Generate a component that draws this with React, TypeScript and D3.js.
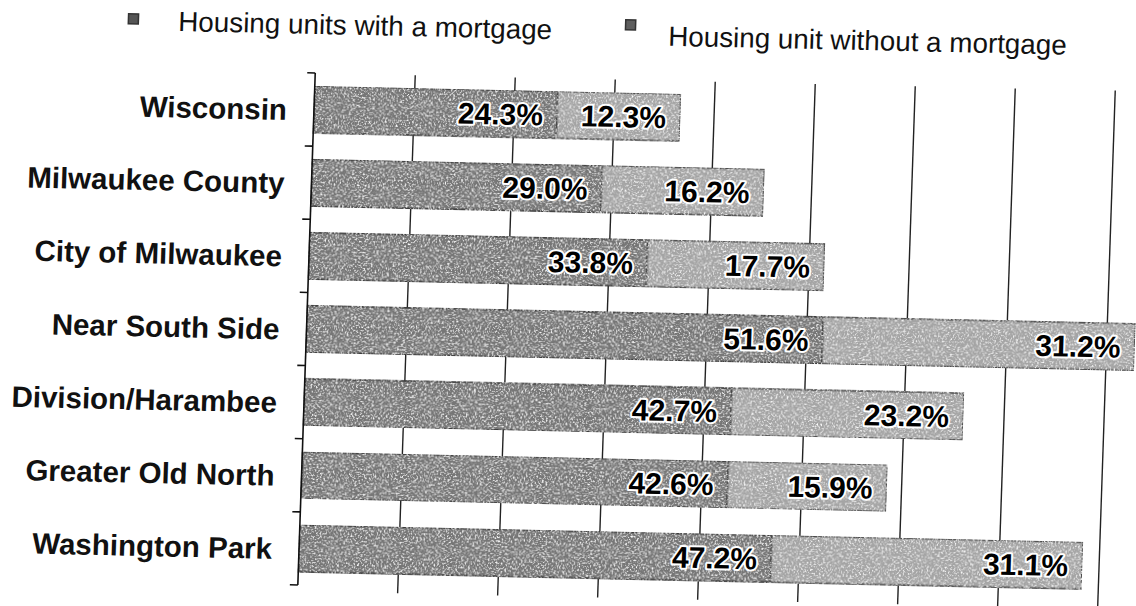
import React from "react";
import * as d3 from "d3";

const categories = [
  "Wisconsin",
  "Milwaukee County",
  "City of Milwaukee",
  "Near South Side",
  "Division/Harambee",
  "Greater Old North",
  "Washington Park",
];
const withMortgage = [24.3, 29.0, 33.8, 51.6, 42.7, 42.6, 47.2];
const withoutMortgage = [12.3, 16.2, 17.7, 31.2, 23.2, 15.9, 31.1];
const seriesNames = ["Housing units with a mortgage", "Housing unit without a mortgage"];
const xTicks = [0, 10, 20, 30, 40, 50, 60, 70, 80, 90];

const W = 1136;
const H = 606;
const axisX = 306.5;
const plotTop = 73;
const plotBottom = 585;
const pivotY = 330;
const FONT = "'Liberation Sans', Arial, Helvetica, sans-serif";
const fills = ["#767676", "#a4a4a4"];

export default function App() {
  const x = d3.scaleLinear().domain([0, 90]).range([axisX, axisX + 900]);
  const y = d3
    .scaleBand<string>()
    .domain(categories)
    .range([plotTop, plotBottom])
    .paddingInner(0.36)
    .paddingOuter(0.18);
  const step = y.step();
  const bw = y.bandwidth();
  const boundaries = d3.range(categories.length + 1).map((i) => plotTop + i * step);
  const fmt = (v: number) => v.toFixed(1) + "%";

  const transform = `translate(${axisX},${pivotY}) matrix(1,0.022,-0.034,1,0,0) translate(${-axisX},${-pivotY})`;

  return (
    <svg
      width={W}
      height={H}
      viewBox={`0 0 ${W} ${H}`}
      style={{ position: "fixed", left: 0, top: 0, background: "#fff" }}
    >
      <defs>
        <filter id="grain" x="0" y="0" width="100%" height="100%">
          <feTurbulence type="fractalNoise" baseFrequency="0.55" numOctaves="2" seed="7" result="n" />
          <feColorMatrix
            in="n"
            type="matrix"
            values="0 0 0 0 1  0 0 0 0 1  0 0 0 0 1  3.2 0 0 0 -1.6"
            result="s"
          />
          <feComposite in="s" in2="SourceAlpha" operator="in" result="sc" />
          <feMerge>
            <feMergeNode in="SourceGraphic" />
            <feMergeNode in="sc" />
          </feMerge>
        </filter>
      </defs>
      <rect x={0} y={0} width={W} height={H} fill="#fff" />
      <g transform={transform}>
        {/* legend */}
        <g fontFamily={FONT} fontSize={27.8} fill="#111">
          <rect x={118} y={18} width={10} height={10} fill="#555" stroke="#333" strokeWidth={1.5} />
          <text x={168} y={34}>{seriesNames[0]}</text>
          <rect x={615} y={13} width={10} height={10} fill="#5e5e5e" stroke="#333" strokeWidth={1.5} />
          <text x={658} y={38}>{seriesNames[1]}</text>
        </g>

        {/* gridlines */}
        {xTicks.slice(1).map((t) => (
          <line
            key={"g" + t}
            x1={x(t)}
            x2={x(t)}
            y1={plotTop}
            y2={plotBottom + 6}
            stroke="#222"
            strokeWidth={1.4}
          />
        ))}

        {/* bars */}
        {categories.map((c, i) => {
          const y0 = y(c)!;
          const a = withMortgage[i];
          const b = withoutMortgage[i];
          return (
            <g key={c}>
              <rect
                x={x(0)}
                y={y0}
                width={x(a) - x(0)}
                height={bw}
                fill={fills[0]}
                stroke="#3a3a3a"
                strokeWidth={1.5}
                filter="url(#grain)"
              />
              <rect
                x={x(a)}
                y={y0}
                width={x(a + b) - x(a)}
                height={bw}
                fill={fills[1]}
                stroke="#4a4a4a"
                strokeWidth={1.5}
                filter="url(#grain)"
              />
            </g>
          );
        })}

        {/* value labels */}
        <g
          fontFamily={FONT}
          fontSize={30}
          fontWeight="bold"
          textAnchor="end"
          fill="#000"
          stroke="#fff"
          strokeWidth={4}
          strokeLinejoin="round"
          style={{ paintOrder: "stroke" }}
        >
          {categories.map((c, i) => {
            const cy = y(c)! + bw / 2;
            const a = withMortgage[i];
            const b = withoutMortgage[i];
            return (
              <g key={"l" + c}>
                <text x={x(a) - 14} y={cy} dy="0.36em">
                  {fmt(a)}
                </text>
                <text x={x(a + b) - 14} y={cy} dy="0.36em">
                  {fmt(b)}
                </text>
              </g>
            );
          })}
        </g>

        {/* left axis */}
        <line x1={axisX} x2={axisX} y1={plotTop} y2={plotBottom} stroke="#111" strokeWidth={1.6} />
        {boundaries.map((by, i) => (
          <line key={"t" + i} x1={axisX - 8} x2={axisX} y1={by} y2={by} stroke="#111" strokeWidth={1.6} />
        ))}

        {/* category labels */}
        <g fontFamily={FONT} fontSize={29.5} fontWeight="bold" textAnchor="end" fill="#111">
          {categories.map((c) => (
            <text key={"c" + c} x={axisX - 27} y={y(c)! + bw / 2 + 11}>
              {c}
            </text>
          ))}
        </g>
      </g>
    </svg>
  );
}
